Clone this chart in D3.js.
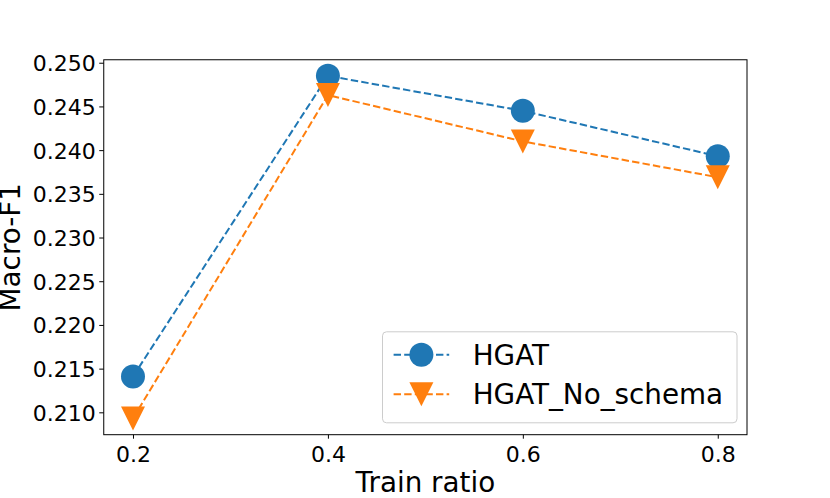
<!DOCTYPE html>
<html><head><meta charset="utf-8">
<script src="https://cdn.jsdelivr.net/npm/d3@7"></script>
<style>body{margin:0;background:#fff;} svg{display:block;} text{font-family:"DejaVu Sans",sans-serif;fill:#000;}</style>
</head><body>
<svg id="c" width="830" height="498"></svg>
<script>
const trainRatios = [0.2, 0.4, 0.6, 0.8];
const hgat = [0.2141, 0.2485, 0.2445, 0.2393];
const hgatNoSchema = [0.2093, 0.2463, 0.2410, 0.2369];
const seriesNames = ["HGAT", "HGAT_No_schema"];
const xTicks = [0.2, 0.4, 0.6, 0.8];
const yTicks = [0.210, 0.215, 0.220, 0.225, 0.230, 0.235, 0.240, 0.245, 0.250];
const xLabel = "Train ratio";
const yLabel = "Macro-F1";

const colors = ["#1f77b4", "#ff7f0e"];
const L = 103.75, R = 747, T = 59.76, B = 434.7;
const svg = d3.select("#c");
const x = d3.scaleLinear().domain([0.17, 0.83]).range([L, R]);
const y = d3.scaleLinear().domain([0.20744, 0.25034]).range([B, T]);

// axes
const xAxis = svg.append("g").attr("transform", `translate(0,${B})`)
  .call(d3.axisBottom(x).tickValues(xTicks).tickFormat(d3.format(".1f")).tickSize(4).tickPadding(8));
const yAxis = svg.append("g").attr("transform", `translate(${L},0)`)
  .call(d3.axisLeft(y).tickValues(yTicks).tickFormat(d3.format(".3f")).tickSize(4.5).tickPadding(3.5));
[xAxis, yAxis].forEach(g => {
  g.select(".domain").remove();
  g.selectAll(".tick line").attr("stroke", "#000").attr("stroke-width", 1);
  g.selectAll(".tick text").style("font-size", "22px").style("font-family", "DejaVu Sans").attr("fill", "#000");
});
xAxis.selectAll(".tick text").attr("dy", null).attr("y", 27);
yAxis.selectAll(".tick text").attr("dy", "0.36em");

const series = [hgat, hgatNoSchema];
const line = d3.line().x((d, i) => x(trainRatios[i])).y(d => y(d));
const tri = "M0,12L-12,-12L12,-12Z";

function drawMarker(g, k, cx, cy) {
  if (k === 0) g.append("circle").attr("cx", cx).attr("cy", cy).attr("r", 12).attr("fill", colors[0]);
  else g.append("path").attr("d", tri).attr("transform", `translate(${cx},${cy})`).attr("fill", colors[1]);
}

series.forEach((vals, k) => {
  const g = svg.append("g");
  g.append("path").attr("d", line(vals)).attr("fill", "none").attr("stroke", colors[k])
    .attr("stroke-width", 2).attr("stroke-dasharray", "7.4,3.2");
  vals.forEach((v, i) => drawMarker(g, k, x(trainRatios[i]), y(v)));
});

// frame
svg.append("rect").attr("x", L).attr("y", T).attr("width", R - L).attr("height", B - T)
  .attr("fill", "none").attr("stroke", "#000").attr("stroke-width", 1);

// legend
const lg = svg.append("g");
lg.append("rect").attr("x", 382.5).attr("y", 331.8).attr("width", 354.5).attr("height", 91)
  .attr("rx", 4).attr("fill", "#fff").attr("fill-opacity", 0.8).attr("stroke", "#cccccc").attr("stroke-width", 1);
seriesNames.forEach((name, k) => {
  const cy = 354.7 + k * 39.5;
  lg.append("line").attr("x1", 393.6).attr("x2", 449.2).attr("y1", cy).attr("y2", cy)
    .attr("stroke", colors[k]).attr("stroke-width", 2).attr("stroke-dasharray", "7.4,3.2");
  drawMarker(lg, k, 421.4, cy);
  lg.append("text").attr("x", 472.7).attr("y", cy).attr("dy", "0.36em")
    .style("font-size", "27.8px").text(name);
});

// axis labels
svg.append("text").attr("x", (L + R) / 2).attr("y", 492).attr("text-anchor", "middle")
  .style("font-size", "27.8px").text(xLabel);
svg.append("text").attr("transform", `translate(20,${(T + B) / 2}) rotate(-90)`).attr("text-anchor", "middle")
  .style("font-size", "27.8px").text(yLabel);
</script>
</body></html>
